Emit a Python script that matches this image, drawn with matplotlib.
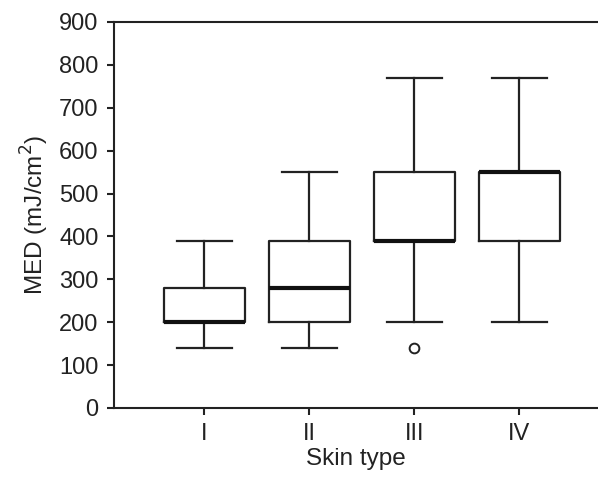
import matplotlib
matplotlib.use("Agg")
import matplotlib.pyplot as plt

plt.rcParams['font.family'] = ['Liberation Sans', 'DejaVu Sans']

# Box summary per skin type (mJ/cm^2)
skin_types = ["I", "II", "III", "IV"]
whisker_low = [140, 140, 200, 200]
q1 = [200, 200, 390, 390]
median = [200, 280, 390, 550]
q3 = [280, 390, 550, 550]
whisker_high = [390, 550, 770, 770]
outliers = [[], [], [140], []]

stats = []
for i, name in enumerate(skin_types):
    stats.append({
        "label": name,
        "whislo": whisker_low[i],
        "q1": q1[i],
        "med": median[i],
        "q3": q3[i],
        "whishi": whisker_high[i],
        "fliers": outliers[i],
    })

fig = plt.figure(figsize=(5.98, 4.8), dpi=100)
ax = fig.add_axes([114 / 598, 72 / 480, 1 - 114 / 598, 386 / 480])

ax.bxp(stats, positions=[1, 2, 3, 4], widths=0.77, showfliers=True,
       boxprops=dict(color="#222222", linewidth=1.6),
       whiskerprops=dict(color="#222222", linewidth=1.6),
       capprops=dict(color="#222222", linewidth=1.6),
       medianprops=dict(color="#111111", linewidth=3),
       flierprops=dict(marker="o", markersize=7, markerfacecolor="white",
                       markeredgecolor="#222222", markeredgewidth=1.4),
       capwidths=0.52)

ax.set_xlim(0.14, 4.75)
ax.set_ylim(0, 900)
ax.set_yticks(range(0, 901, 100))
ax.spines["right"].set_visible(False)
for s in ["left", "bottom", "top"]:
    ax.spines[s].set_linewidth(1.5)
    ax.spines[s].set_color("#222222")
ax.tick_params(axis="both", direction="out", length=5, width=1.5,
               labelsize=17, colors="#222222")
ax.tick_params(axis="y", pad=6)
ax.tick_params(axis="x", pad=6)
ax.set_ylabel("MED (mJ/cm$^2$)", fontsize=17.5, color="#222222", labelpad=6)
ax.set_xlabel("Skin type", fontsize=17.5, color="#222222", labelpad=2)

fig.savefig("out.png", dpi=100)
